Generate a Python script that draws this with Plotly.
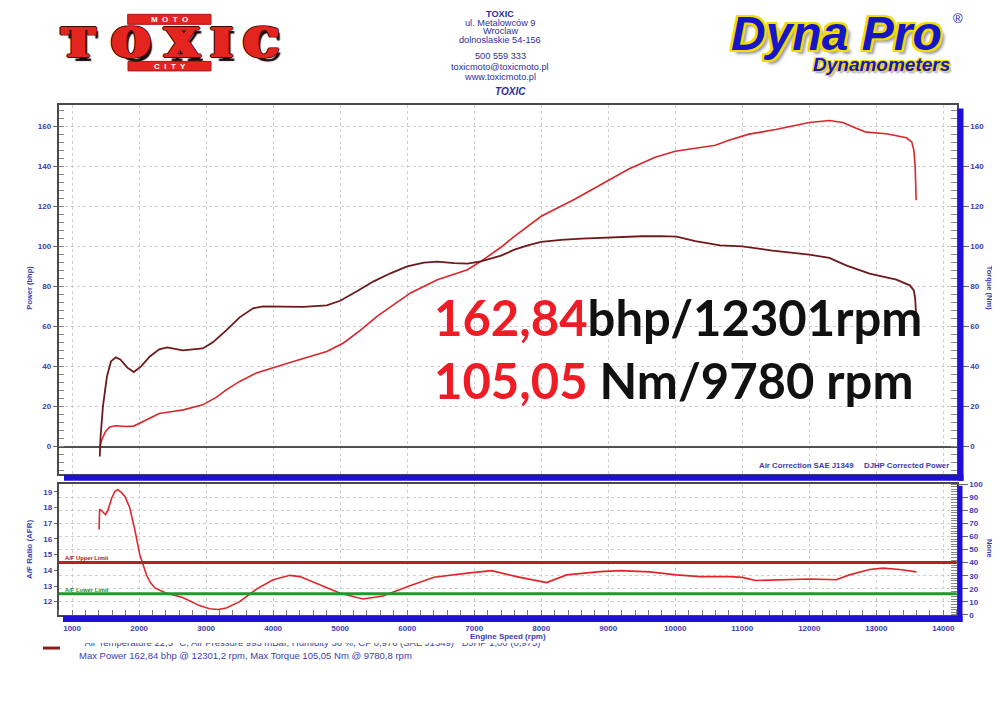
import plotly.graph_objects as go

# ---------------- data ----------------
rpm_power = [1413, 1450, 1500, 1560, 1650, 1800, 1920, 2100, 2300, 2500, 2660, 2950, 3150, 3300, 3500,
             3750, 4000, 4300, 4550, 4800, 5050, 5300, 5550, 5800, 6050, 6450, 6900, 7100, 7400, 7600,
             8000, 8500, 9000, 9300, 9700, 10000, 10300, 10600, 10800, 11100, 11500, 12000, 12300, 12500,
             12700, 12850, 13150, 13450, 13530, 13560, 13580, 13590, 13595]
power_bhp = [0, 4, 7.5, 9.8, 10.4, 10.0, 10.2, 13, 16.5, 17.5, 18.3, 20.8, 24.5, 28.3, 32.5,
             36.7, 39.5, 42.5, 45, 47.5, 51.7, 58, 65, 71, 76.7, 83.3, 88.3, 92.5, 99.5, 105,
             115, 123.5, 133, 138.5, 144.5, 147.5, 149, 150.5, 153, 156, 158.3, 161.8, 162.84, 161.8,
             159, 157, 156.2, 154.2, 152, 148, 140, 130, 123]

rpm_torque = [1413, 1425, 1460, 1520, 1580, 1650, 1720, 1820, 1920, 2030, 2160, 2300, 2420, 2550, 2650,
              2800, 2950, 3100, 3300, 3500, 3700, 3850, 4000, 4200, 4450, 4800, 5000, 5250, 5500, 5750,
              6000, 6250, 6450, 6700, 6900, 7100, 7400, 7600, 7800, 8000, 8300, 8600, 9100, 9500, 9780,
              10020, 10300, 10670, 11000, 11450, 12000, 12300, 12550, 12900, 13300, 13500, 13560, 13580, 13595]
torque_nm = [-5, 5, 20, 35, 42.5, 44.5, 43.5, 39.5, 37.2, 40, 45, 48.5, 49.5, 48.5, 48,
             48.5, 49, 52, 58, 64.5, 69, 70, 70, 69.7, 69.7, 70.5, 72.8, 77.5, 82.5, 86.5,
             90, 91.8, 92.3, 91.6, 91.3, 92.5, 95.3, 98.3, 100.5, 102.2, 103.2, 103.8, 104.5, 105, 105.05,
             104.8, 102.6, 100.5, 100, 97.8, 95.8, 94.2, 90.5, 86.3, 83.3, 80.5, 78, 74, 65]

rpm_afr = [1403, 1405, 1410, 1440, 1500, 1540, 1590, 1640, 1680, 1730, 1790, 1860, 1900, 1940, 2010,
           2060, 2110, 2170, 2240, 2400, 2650, 2900, 3050, 3180, 3300, 3500, 3750, 4000, 4250, 4400,
           4700, 5000, 5340, 5640, 6000, 6400, 6900, 7260, 7630, 8080, 8380, 8880, 9180, 9620, 10020,
           10370, 10800, 11000, 11200, 11500, 12000, 12400, 12600, 12900, 13100, 13350, 13600]
afr = [16.6, 17.3, 17.9, 17.8, 17.55, 17.9, 18.6, 19.05, 19.15, 19.0, 18.7, 18.0, 17.3, 16.5, 15.0,
       14.3, 13.7, 13.2, 12.86, 12.55, 12.26, 11.75, 11.55, 11.5, 11.6, 12.0, 12.8, 13.4, 13.68, 13.6,
       13.07, 12.54, 12.17, 12.36, 12.96, 13.56, 13.82, 13.98, 13.6, 13.22, 13.71, 13.92, 13.98, 13.9, 13.71,
       13.6, 13.6, 13.55, 13.35, 13.4, 13.45, 13.4, 13.71, 14.05, 14.14, 14.05, 13.9]

afr_upper_limit = 14.5
afr_lower_limit = 12.5

x_ticks = [1000, 2000, 3000, 4000, 5000, 6000, 7000, 8000, 9000, 10000, 11000, 12000, 13000, 14000]
x_tick_labels = [str(v) for v in x_ticks]
power_ticks = [0, 20, 40, 60, 80, 100, 120, 140, 160]
afr_ticks = [12, 13, 14, 15, 16, 17, 18, 19]
none_ticks = [0, 10, 20, 30, 40, 50, 60, 70, 80, 90, 100]

max_power_text = "Max Power 162,84 bhp @ 12301,2 rpm, Max Torque 105,05 Nm @ 9780,8 rpm"
conditions_text = ("Air Temperature 22,5 °C, Air Pressure 993 mBar, Humidity 38 %, "
                   "CF 0,976 (SAE J1349)   DJHP 1,00 (0,975)")

# ---------------- helpers ----------------
OFF = 8                     # page body margin
W, H = 1000 - OFF, 707 - OFF


def px(x):
    return (x - OFF) / W


def py(y):
    yf = (y - 4.8) / 0.986 - OFF
    return 1 - yf / H


BLUE_BAR = "#1e10d8"
TXT_BLUE = "#3a3ab4"
FRAME = "#4a4a4a"
GRID = "#cfcfcf"
tick_font = dict(family="Liberation Sans, Arial", size=8, color=TXT_BLUE, weight="bold")

XD = [px(58.7), px(956.7)]
TOP_D = [py(474), py(105.5)]
BOT_D = [py(615), py(484.3)]
X_RANGE = [800, 14200]
TOP_RANGE = [-13.65, 170.6]

fig = go.Figure()

fig.add_trace(go.Scatter(x=rpm_power, y=power_bhp, mode="lines", xaxis="x", yaxis="y",
                         line=dict(color="#d8262a", width=1.6), showlegend=False))
fig.add_trace(go.Scatter(x=rpm_torque, y=torque_nm, mode="lines", xaxis="x", yaxis="y2",
                         line=dict(color="#6e1a1c", width=1.8), showlegend=False))
fig.add_trace(go.Scatter(x=rpm_afr, y=afr, mode="lines", xaxis="x2", yaxis="y3",
                         line=dict(color="#e0262a", width=1.6), showlegend=False))
fig.add_trace(go.Scatter(x=[None], y=[None], xaxis="x2", yaxis="y4", showlegend=False))
# clipped conditions line under the chart
fig.add_trace(go.Scatter(x=[77], y=[63], xaxis="x3", yaxis="y5", mode="text",
                         text=[conditions_text], textposition="middle right",
                         textfont=dict(family="Liberation Sans, Arial", size=9.5, color="#3d3db5"),
                         cliponaxis=True, showlegend=False, hoverinfo="skip"))

common_x = dict(range=X_RANGE, domain=XD, showgrid=True, gridcolor=GRID, griddash="dot",
                gridwidth=1, tickvals=x_ticks, ticktext=x_tick_labels, showline=True,
                linecolor=FRAME, linewidth=2, mirror=True, zeroline=False, fixedrange=True)

fig.update_layout(
    width=W, height=H, autosize=False,
    margin=dict(l=0, r=0, t=0, b=0),
    paper_bgcolor="white", plot_bgcolor="white",
    showlegend=False,
    xaxis=dict(**common_x, anchor="y", showticklabels=False, ticks=""),
    xaxis2=dict(**common_x, anchor="y3", showticklabels=True, ticks="outside", ticklen=4,
                tickcolor=BLUE_BAR, tickfont=tick_font,
                minor=dict(ticks="inside", ticklen=5, dtick=200, tickcolor="#777", showgrid=False)),
    xaxis3=dict(domain=[0, 1], range=[0, 1000], visible=False, anchor="y5", fixedrange=True),
    yaxis=dict(domain=TOP_D, range=TOP_RANGE, anchor="x", tickvals=power_ticks,
               showgrid=True, gridcolor=GRID, griddash="dot", gridwidth=1,
               zeroline=True, zerolinecolor="#505050", zerolinewidth=1.5,
               showline=True, linecolor=FRAME, linewidth=2, mirror=True,
               ticks="outside", ticklen=4, tickcolor="#666", tickfont=tick_font,
               minor=dict(ticks="inside", ticklen=5, dtick=4, tickcolor="#888", showgrid=False)),
    yaxis2=dict(range=TOP_RANGE, overlaying="y", side="right", anchor="x",
                tickvals=power_ticks, showgrid=False, zeroline=False,
                ticks="outside", ticklen=11, tickcolor="#666", tickfont=tick_font,
                minor=dict(ticks="inside", ticklen=6, dtick=4, tickcolor="#888", showgrid=False)),
    yaxis3=dict(domain=BOT_D, range=[11.15, 19.5], anchor="x2", tickvals=afr_ticks,
                showgrid=False, zeroline=False,
                showline=True, linecolor=FRAME, linewidth=2, mirror=True,
                ticks="outside", ticklen=3, tickcolor="#666", tickfont=tick_font),
    yaxis4=dict(range=[0, 100], overlaying="y3", side="right", anchor="x2",
                tickvals=none_ticks, showgrid=True, gridcolor=GRID, griddash="dot", zeroline=False,
                ticks="outside", ticklen=10, tickcolor="#666", tickfont=tick_font,
                minor=dict(ticks="inside", ticklen=6, dtick=2, tickcolor="#888", showgrid=False)),
    yaxis5=dict(domain=[0, py(643)], range=[0, 64], visible=False, anchor="x3", fixedrange=True),
)

shapes = []
# limit lines
shapes.append(dict(type="line", xref="x2 domain", x0=0, x1=1, yref="y3", y0=afr_upper_limit,
                   y1=afr_upper_limit, line=dict(color="#b52025", width=3)))
shapes.append(dict(type="line", xref="x2 domain", x0=0, x1=1, yref="y3", y0=afr_lower_limit,
                   y1=afr_lower_limit, line=dict(color="#1f9a2a", width=3)))
# blue shadow bars
for (x0, y0, x1, y1) in [(64, 475, 963.5, 481), (957.7, 109, 963.5, 481),
                         (63, 616, 962.5, 622), (957.7, 486, 962.5, 622)]:
    shapes.append(dict(type="rect", xref="paper", yref="paper", x0=px(x0), x1=px(x1),
                       y0=py(y1), y1=py(y0), fillcolor=BLUE_BAR, line=dict(width=0), layer="above"))
# logo boxes
for (x0, y0, x1, y1) in [(127.7, 15, 211, 25), (128, 62, 211, 71.5)]:
    shapes.append(dict(type="rect", xref="paper", yref="paper", x0=px(x0), x1=px(x1),
                       y0=py(y1), y1=py(y0), fillcolor="#e3241f", line=dict(color="#b01515", width=1)))
# legend glyph
shapes.append(dict(type="line", xref="paper", yref="paper", x0=px(43), x1=px(60), y0=py(648),
                   y1=py(648), line=dict(color="#8b1f1f", width=3)))
fig.update_layout(shapes=shapes)

ann = []


def A(x, y, text, size=9, color=TXT_BLUE, xanchor="center", yanchor="middle", family="Liberation Sans, Arial",
      angle=0, shadow=None, weight=None):
    f = dict(family=family, size=size, color=color)
    if shadow:
        f["shadow"] = shadow
    if weight:
        f["weight"] = weight
    ann.append(dict(x=px(x), y=py(y), xref="paper", yref="paper", text=text, showarrow=False,
                    xanchor=xanchor, yanchor=yanchor, font=f, textangle=angle))


HDR = "#2e2e9e"
A(500, 15, "<b>TOXIC</b>", 9.2, HDR)
A(500, 23.6, "ul. Metalowców 9", 9.2, HDR)
A(500, 32, "Wroclaw", 9.2, HDR)
A(500, 40.5, "dolnoslaskie 54-156", 9.2, HDR)
A(500, 56.5, "500 559 333", 9.2, HDR)
A(500, 67.2, "toxicmoto@toxicmoto.pl", 9.2, HDR)
A(500, 77.2, "www.toxicmoto.pl", 9.2, HDR)
A(510, 92.5, "<b><i>TOXIC</i></b>", 10, HDR)

# TOXIC logo: red horizontal smear via shadows for the wide wood-type look, dark outline + drop shadow
RED = "#e3241f"
dark = "#3a0606"
logo_shadow = ", ".join(
    [f"{d}px 0 0 {RED}" for d in (1, -1, 2, -2, 3, -3)] +
    [f"{dx}px {dy}px 0 {dark}" for dx, dy in ((4, 0), (-4, 0), (3, 1), (-3, 1), (3, -1), (-3, -1),
                                              (0, 1), (0, -1))] +
    ["5px 4px 1px #1a0505"])
for ch, cx in zip("TOXIC", [78.7, 130.5, 182, 221.7, 261]):
    A(cx, 44, "<b>" + ch + "</b>", 41, RED, family="DejaVu Serif", shadow=logo_shadow)
A(169.5, 20.3, "<b>M  O  T  O</b>", 8, "white")
A(169.5, 66.8, "<b>C  I  T  Y</b>", 8, "white")

# Dyna Pro logo
yel = "#f2dc00"
outline = ", ".join(f"{a}px {b}px 0 {yel}" for a, b in
                    [(-2, -2), (2, -2), (-2, 2), (2, 2), (0, -2), (0, 2), (-2, 0), (2, 0)])
A(836, 34, "<b><i>Dyna Pro</i></b>", 48, "#1616c8", shadow=outline + ", 4px 4px 3px #999")
A(958, 19, "®", 13, "#1616c8")
outline2 = ", ".join(f"{a}px {b}px 0 {yel}" for a, b in
                     [(-1, -1), (1, -1), (-1, 1), (1, 1)])
A(881, 65, "<b><i>Dynamometers</i></b>", 19, "#1616c8", shadow=outline2 + ", 2px 2px 2px #999")

# big result text
A(432, 317, "<b><span style='color:#ee1c25'>162,84</span>bhp/12301rpm</b>", 49, "#111111",
  xanchor="left", family="Lato")
A(432, 380, "<b><span style='color:#ee1c25'>105,05</span> Nm/9780 rpm</b>", 49, "#111111",
  xanchor="left", family="Lato")

# chart texts
A(757, 465.5, "<b>Air Correction SAE J1349</b>", 7.8, TXT_BLUE, xanchor="left")
A(951, 465.5, "<b>DJHP Corrected Power</b>", 7.8, TXT_BLUE, xanchor="right")
A(30, 288, "<b>Power (bhp)</b>", 7.5, TXT_BLUE, angle=-90)
A(989, 288, "<b>Torque (Nm)</b>", 7.5, TXT_BLUE, angle=90)
A(30, 550, "<b>A/F Ratio (AFR)</b>", 8, TXT_BLUE, angle=-90)
A(989, 548, "<b>None</b>", 7.5, TXT_BLUE, angle=90)
A(508, 636.5, "<b>Engine Speed (rpm)</b>", 8, TXT_BLUE)
A(63, 558.5, "<b>A/F Upper Limit</b>", 5.8, "#a01c20", xanchor="left")
A(63, 590, "<b>A/F Lower Limit</b>", 5.8, "#1f8a2a", xanchor="left")
A(77, 655, max_power_text, 9.5, "#3d3db5", xanchor="left")

fig.update_layout(annotations=ann)

fig.write_html("out.html")
